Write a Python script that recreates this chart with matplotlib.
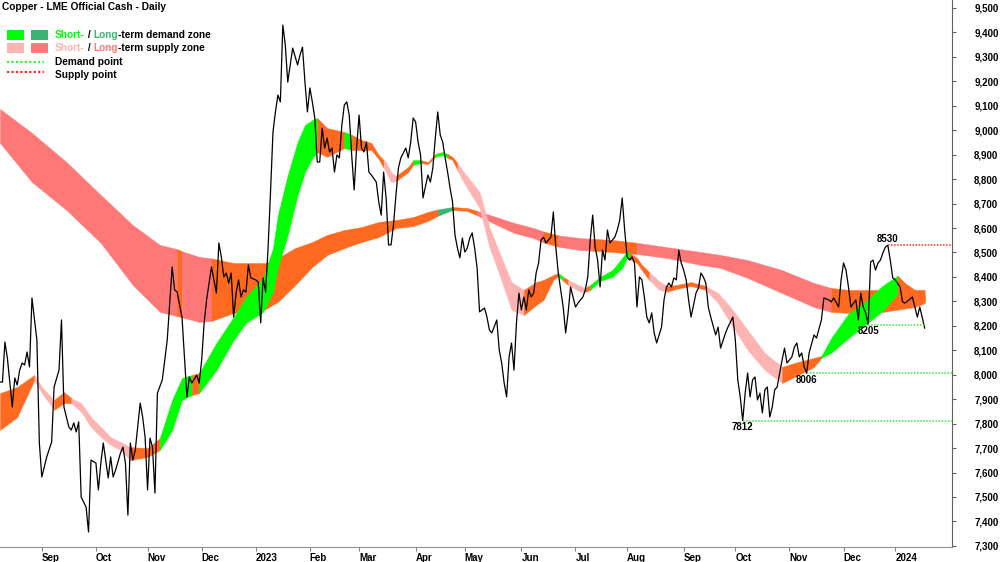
import pandas as pd
import matplotlib
matplotlib.use("Agg")
from matplotlib import pyplot as plt
from matplotlib import transforms
from matplotlib.patches import Rectangle

plt.rcParams["font.family"] = ["Liberation Sans", "DejaVu Sans"]
plt.rcParams["font.weight"] = "bold"
plt.rcParams["font.size"] = 7

# x values are trading days counted from the first bar of the chart
first_bar = "2022-08-09"

# daily close (turning points)
price_day = [0, 1, 2, 3, 5, 6, 7, 8, 9, 10, 11, 12,
             13, 15, 16, 17, 19, 21, 22, 24, 25, 26, 28, 29,
             30, 31, 32, 33, 35, 36, 37, 39, 40, 41, 42, 44,
             45, 46, 47, 49, 50, 51, 52, 53, 54, 55, 57, 58,
             59, 60, 61, 62, 63, 64, 66, 67, 68, 70, 71, 72,
             74, 75, 76, 77, 78, 80, 81, 82, 83, 84, 86, 87,
             88, 89, 90, 91, 92, 93, 94, 95, 96, 97, 98, 99,
             100, 101, 102, 104, 105, 106, 107, 108, 109, 110, 111, 112,
             113, 114, 115, 116, 117, 119, 121, 122, 123, 124, 125, 126,
             127, 128, 129, 130, 131, 132, 133, 134, 135, 136, 137, 138,
             139, 140, 141, 142, 143, 144, 145, 146, 147, 148, 149, 150,
             151, 153, 154, 155, 156, 157, 158, 159, 160, 161, 162, 163,
             165, 166, 167, 168, 169, 170, 171, 172, 174, 175, 176, 177,
             178, 179, 180, 181, 182, 183, 184, 185, 186, 187, 188, 189,
             190, 191, 192, 193, 194, 195, 197, 198, 199, 200, 202, 203,
             204, 205, 206, 207, 208, 209, 210, 211, 212, 213, 214, 215,
             216, 217, 218, 219, 220, 221, 222, 224, 225, 226, 227, 228,
             229, 230, 231, 232, 233, 234, 235, 237, 238, 239, 240, 241,
             242, 243, 244, 245, 246, 247, 248, 249, 250, 251, 252, 253,
             254, 255, 256, 257, 258, 259, 260, 261, 262, 263, 264, 265,
             266, 267, 269, 270, 271, 272, 273, 274, 275, 276, 277, 278,
             279, 280, 281, 283, 284, 285, 286, 287, 288, 289, 291, 292,
             293, 295, 296, 298, 299, 300, 301, 302, 303, 304, 305, 306,
             307, 308, 309, 310, 311, 312, 313, 314, 315, 316, 318, 319,
             320, 322, 323, 324, 325, 326, 327, 328, 329, 331, 332, 334,
             335, 337, 338, 339, 341, 342, 343, 344, 345, 346, 348, 349,
             350, 351, 352, 353, 354, 355, 356, 357, 358, 359, 360, 361,
             362, 363, 364, 366, 367, 368, 371, 372, 373, 374, 376]
price_close = [7970, 7970, 8134, 8068, 7868, 7987, 7958, 8019, 8048, 8040, 8093, 8032,
               8314, 8142, 7721, 7582, 7664, 7725, 7950, 8019, 8224, 7868, 7786, 7774,
               7803, 7766, 7807, 7500, 7459, 7357, 7651, 7639, 7529, 7639, 7721, 7578,
               7664, 7582, 7610, 7680, 7704, 7639, 7426, 7721, 7651, 7692, 7884, 7827,
               7745, 7529, 7741, 7704, 7516, 7925, 7979, 8060, 8142, 8441, 8347, 8339,
               8236, 8073, 7909, 7991, 7966, 7998, 7966, 8060, 8212, 8306, 8441, 8388,
               8334, 8539, 8482, 8400, 8416, 8375, 8416, 8236, 8334, 8388, 8318, 8347,
               8338, 8449, 8396, 8388, 8379, 8212, 8396, 8338, 8518, 8747, 8993, 9075,
               9144, 9116, 9430, 9349, 9197, 9336, 9267, 9308, 9340, 9197, 9075, 9173,
               9116, 9050, 8870, 8870, 9009, 8927, 8968, 8911, 8927, 8829, 8899, 8887,
               9021, 9103, 9116, 9062, 8899, 8756, 8927, 9062, 8927, 8911, 8952, 8829,
               8817, 8788, 8707, 8653, 8829, 8723, 8531, 8531, 8612, 8735, 8846, 8887,
               8927, 8887, 8952, 9050, 9034, 8952, 8899, 8723, 8817, 8788, 8846, 8968,
               9075, 8981, 8952, 8887, 8829, 8764, 8707, 8572, 8518, 8478, 8559, 8502,
               8518, 8559, 8580, 8518, 8437, 8257, 8273, 8236, 8183, 8171, 8224, 8101,
               8048, 7966, 7909, 8073, 8130, 8019, 8212, 8334, 8265, 8318, 8265, 8347,
               8318, 8334, 8416, 8457, 8551, 8563, 8539, 8563, 8666, 8522, 8416, 8347,
               8277, 8171, 8253, 8359, 8318, 8277, 8293, 8318, 8347, 8400, 8551, 8653,
               8522, 8469, 8359, 8510, 8469, 8592, 8539, 8551, 8563, 8592, 8633, 8723,
               8592, 8482, 8469, 8482, 8457, 8277, 8400, 8388, 8318, 8236, 8212, 8253,
               8171, 8130, 8195, 8306, 8359, 8375, 8359, 8396, 8388, 8510, 8457, 8428,
               8388, 8306, 8236, 8334, 8355, 8416, 8400, 8375, 8277, 8236, 8163, 8195,
               8109, 8171, 8195, 8236, 8142, 7979, 7909, 7812, 7925, 8007, 7909, 7979,
               7991, 7897, 7925, 7844, 7938, 7950, 7827, 7868, 7938, 7950, 8060, 8109,
               8048, 8073, 8113, 8130, 8073, 8089, 8032, 8006, 8089, 8163, 8150, 8224,
               8314, 8306, 8298, 8314, 8277, 8388, 8457, 8428, 8359, 8277, 8306, 8224,
               8334, 8277, 8253, 8205, 8461, 8469, 8428, 8457, 8469, 8498, 8522, 8530,
               8469, 8396, 8388, 8359, 8298, 8293, 8318, 8277, 8236, 8277, 8191]

# long-term zone: S = supply, N = neutral, D = demand (colour of the stretch that starts at each sample)
long_day = [0, 13, 27, 41, 54, 65, 72, 74, 81, 86,
            95, 102, 108, 113, 120, 127, 133, 140, 147, 154,
            161, 168, 174, 178, 184, 190, 194, 203, 209, 217,
            221, 227, 236, 241, 249, 259, 271, 285, 293, 304,
            318, 331, 338, 345, 359, 372, 376]
long_top = [9087, 8989, 8870, 8735, 8612, 8531, 8514, 8505, 8482, 8476,
            8457, 8457, 8457, 8478, 8518, 8543, 8572, 8592, 8604, 8625,
            8633, 8645, 8666, 8676, 8686, 8682, 8670, 8641, 8621, 8600,
            8586, 8570, 8559, 8556, 8551, 8540, 8522, 8502, 8490, 8469,
            8428, 8375, 8355, 8347, 8347, 8347, 8347]
long_bot = [8948, 8788, 8674, 8539, 8367, 8257, 8240, 8235, 8216, 8220,
            8253, 8261, 8269, 8298, 8367, 8441, 8490, 8518, 8543, 8563,
            8600, 8608, 8629, 8650, 8674, 8670, 8652, 8608, 8580, 8559,
            8541, 8524, 8510, 8507, 8502, 8494, 8478, 8449, 8437, 8396,
            8334, 8277, 8257, 8253, 8257, 8277, 8293]
long_zone = "SSSSSSNSSNNNNNNNNNNNNNNDNNSSSSNSSNNSSSSSSSNNNN-"

# short-term zone
short_day = [0, 7, 14, 17, 22, 26, 29, 33, 37, 41,
             45, 49, 53, 60, 65, 70, 74, 78, 81, 88,
             95, 100, 107, 111, 113, 117, 121, 124, 127, 129,
             133, 140, 143, 147, 151, 154, 156, 157, 159, 161,
             166, 168, 171, 174, 177, 180, 182, 184, 186, 188,
             195, 199, 203, 208, 213, 218, 221, 225, 227, 229,
             231, 236, 238, 240, 244, 249, 253, 255, 256, 259,
             261, 264, 268, 271, 275, 281, 287, 292, 297, 304,
             311, 318, 323, 331, 334, 338, 345, 352, 359, 365,
             368, 372, 376]
short_top = [7925, 7950, 7999, 7950, 7897, 7929, 7905, 7884, 7827, 7786,
             7745, 7725, 7704, 7700, 7741, 7897, 7987, 7999, 8007, 8130,
             8236, 8318, 8396, 8518, 8653, 8817, 8952, 9021, 9042, 9050,
             9009, 8993, 8981, 8960, 8948, 8899, 8878, 8870, 8829, 8813,
             8850, 8878, 8878, 8870, 8903, 8911, 8903, 8891, 8866, 8837,
             8747, 8604, 8502, 8379, 8347, 8379, 8388, 8408, 8416, 8400,
             8388, 8363, 8355, 8367, 8400, 8428, 8478, 8506, 8498, 8478,
             8449, 8420, 8383, 8363, 8367, 8379, 8363, 8334, 8277, 8183,
             8089, 8032, 8048, 8069, 8077, 8150, 8250, 8300, 8365, 8405,
             8375, 8347, 8326]
short_bot = [7774, 7827, 7979, 7925, 7856, 7884, 7884, 7848, 7786, 7745,
             7713, 7692, 7651, 7664, 7692, 7774, 7897, 7917, 7925, 8019,
             8142, 8212, 8257, 8338, 8437, 8572, 8735, 8829, 8886, 8911,
             8891, 8927, 8919, 8919, 8919, 8882, 8846, 8829, 8788, 8792,
             8829, 8858, 8866, 8862, 8891, 8899, 8887, 8878, 8837, 8797,
             8682, 8522, 8412, 8265, 8244, 8285, 8306, 8388, 8404, 8384,
             8367, 8339, 8339, 8347, 8384, 8400, 8437, 8478, 8473, 8457,
             8428, 8387, 8347, 8339, 8351, 8363, 8347, 8293, 8212, 8101,
             8019, 7966, 7991, 8032, 8069, 8090, 8150, 8205, 8262, 8330,
             8306, 8306, 8297]
short_zone = ("NNSSNNSSSS" "SSNNDDDNDD" "DDDDDDDDDN" "NDNNNNSSSN" "NDNNDDNNSS"
              "SSSSNNNNDN" "SSNDDDDDNN" "NSSNNNSSSS" "SNNNDDDDDN" "NN-")

demand_day = [302, 328, 353]
demand_value = [7812, 8006, 8205]
demand_to_edge = [True, True, False]
supply_day = [361]
supply_value = [8530]

long_colours = {"S": "#FF7878", "N": "#FF6A20", "D": "#3CB371"}
short_colours = {"S": "#FFB4B4", "N": "#FF6A20", "D": "#00FF00"}
demand_line = "#3CEB3C"
supply_line = "#FF2A2A"

x_right = 387.1

fig = plt.figure(figsize=(10, 5.62), dpi=100)
ax = fig.add_axes([0, 15 / 562, 0.952, 547 / 562])


def draw_band(day, top, bot, zone, colours, z):
    i = 0
    while i < len(zone) - 1:
        j = i
        while j + 1 < len(zone) - 1 and zone[j + 1] == zone[i]:
            j += 1
        c = colours[zone[i]]
        ax.fill_between(day[i:j + 2], bot[i:j + 2], top[i:j + 2],
                        facecolor=c, edgecolor=c, linewidth=0.3, zorder=z)
        i = j + 1


draw_band(long_day, long_top, long_bot, long_zone, long_colours, 2)
draw_band(short_day, short_top, short_bot, short_zone, short_colours, 3)
ax.plot(price_day, price_close, color="black", lw=0.9, zorder=4)

dots = (0, (1, 1))
for d, v, edge in zip(demand_day, demand_value, demand_to_edge):
    end = x_right if edge else price_day[-1]
    ax.plot([d, end], [v, v], color=demand_line, lw=1.1, ls=dots, zorder=5, clip_on=False)
    ax.annotate(str(v), (d, v), xytext=(0, -1), textcoords="offset points",
                ha="center", va="top", fontsize=7, zorder=6)
for d, v in zip(supply_day, supply_value):
    ax.plot([d, x_right], [v, v], color=supply_line, lw=1.1, ls=dots, zorder=5, clip_on=False)
    ax.annotate(str(v), (d, v), xytext=(0, 1), textcoords="offset points",
                ha="center", va="bottom", fontsize=7, zorder=6)

ax.set_xlim(0, x_right)
ax.set_ylim(7295.5, 9532.7)

days = pd.bdate_range(first_bar, periods=400)
ticks = [i for i in range(1, len(days)) if days[i].month != days[i - 1].month and i < x_right - 5]
labels = [days[i].strftime("%Y") if days[i].month == 1 else days[i].strftime("%b") for i in ticks]
ax.set_xticks(ticks)
ax.set_xticklabels(labels)
shift = transforms.ScaledTranslation(2 / 100, 0, fig.dpi_scale_trans)
for lab in ax.get_xticklabels():
    lab.set_horizontalalignment("left")
    lab.set_transform(lab.get_transform() + shift)

yt = list(range(7300, 9501, 100))
ax.set_yticks(yt)
ax.set_yticklabels([f"{v:,}" for v in yt])
ax.yaxis.tick_right()
ax.tick_params(axis="x", direction="out", length=3, pad=1.5, color="#808080", labelsize=7)
ax.tick_params(axis="y", direction="out", length=3, pad=13, color="#606060", labelsize=7)

ax.spines["left"].set_visible(False)
ax.spines["top"].set_visible(False)
ax.spines["right"].set_color("#606060")
ax.spines["bottom"].set_color("#909090")

# title and legend drawn in pixel space
lay = fig.add_axes([0, 0, 1, 1], zorder=10)
lay.set_xlim(0, 1000)
lay.set_ylim(562, 0)
lay.axis("off")
lay.text(2, 7, "Copper - LME Official Cash - Daily", va="center", fontsize=7.3)

lay.add_patch(Rectangle((7, 30), 17, 10, color=short_colours["D"], lw=0))
lay.add_patch(Rectangle((31, 30), 17, 10, color=long_colours["D"], lw=0))
lay.add_patch(Rectangle((7, 43), 17, 10, color=short_colours["S"], lw=0))
lay.add_patch(Rectangle((31, 43), 17, 10, color=long_colours["S"], lw=0))
lay.plot([7, 44], [62, 62], color=demand_line, lw=1.6, ls=dots)
lay.plot([7, 44], [72, 72], color=supply_line, lw=1.6, ls=dots)


def chained(y, parts):
    t = lay.text(55, y, parts[0][0], color=parts[0][1], va="center", fontsize=7.3)
    for s, c in parts[1:]:
        t = lay.annotate(s, xy=(1, 0), xycoords=t, va="bottom", color=c, fontsize=7.3)


chained(35, [("Short-", short_colours["D"]), (" / ", "black"),
             ("Long", long_colours["D"]), ("-term demand zone", "black")])
chained(48, [("Short-", short_colours["S"]), (" / ", "black"),
             ("Long", long_colours["S"]), ("-term supply zone", "black")])
chained(62, [("Demand point", "black")])
chained(75, [("Supply point", "black")])

fig.savefig("out.png", dpi=100)
